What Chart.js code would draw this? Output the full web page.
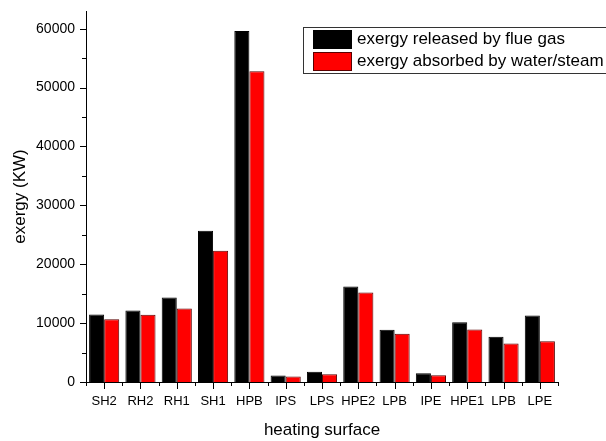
<!DOCTYPE html>
<html>
<head>
<meta charset="utf-8">
<script src="https://cdn.jsdelivr.net/npm/chart.js@4"></script>
<style>
  body { margin: 0; background: #fff; }
  #wrap { width: 606px; height: 441px; }
</style>
</head>
<body>
<div id="wrap"><canvas id="chart" width="606" height="441"></canvas></div>
<script>
// Data
const surfaces = ['SH2', 'RH2', 'RH1', 'SH1', 'HPB', 'IPS', 'LPS', 'HPE2', 'LPB', 'IPE', 'HPE1', 'LPB', 'LPE'];
const released = [11460, 12150, 14350, 25700, 59600, 1100, 1730, 16200, 8860, 1500, 10150, 7670, 11290];
const absorbed = [10650, 11400, 12480, 22300, 52770, 930, 1330, 15200, 8180, 1160, 8910, 6540, 6930];
const seriesNames = ['exergy released by flue gas', 'exergy absorbed by water/steam'];
const yMajorTicks = [0, 10000, 20000, 30000, 40000, 50000, 60000];
const yMinorTicks = [5000, 15000, 25000, 35000, 45000, 55000];

const FONT = '"Liberation Sans", Arial, sans-serif';

// tick marks: long on majors, short on minors, drawn outward
const tickMarks = {
    id: 'tickMarks',
    afterDraw(chart) {
        const ctx = chart.ctx;
        const x = chart.scales.x, y = chart.scales.y;
        const area = chart.chartArea;
        ctx.save();
        ctx.strokeStyle = '#000';
        ctx.lineWidth = 1;
        ctx.beginPath();
        y.ticks.forEach(t => {
            const py = Math.round(y.getPixelForValue(t.value)) + 0.5;
            const len = yMajorTicks.includes(t.value) ? 6 : 4;
            ctx.moveTo(area.left, py);
            ctx.lineTo(area.left - len, py);
        });
        for (let i = 0; i <= surfaces.length; i++) {
            const px = Math.round(x.getPixelForValue(i - 0.5)) + 0.5;
            ctx.moveTo(px, area.bottom);
            ctx.lineTo(px, area.bottom + 4);
        }
        surfaces.forEach((s, i) => {
            const px = Math.round(x.getPixelForValue(i)) + 0.5;
            ctx.moveTo(px, area.bottom);
            ctx.lineTo(px, area.bottom + 7);
        });
        ctx.stroke();
        ctx.restore();
    }
};

// boxed legend inside the plot, top right
const boxLegend = {
    id: 'boxLegend',
    afterDraw(chart) {
        const ctx = chart.ctx;
        ctx.save();
        ctx.strokeStyle = '#333';
        ctx.lineWidth = 1;
        ctx.strokeRect(303.5, 27.5, 320, 46);
        ctx.font = '17px ' + FONT;
        ctx.textBaseline = 'middle';
        chart.data.datasets.forEach((ds, i) => {
            const top = 30 + i * 22;
            ctx.fillStyle = ds.backgroundColor;
            ctx.fillRect(313, top, 39, 19);
            ctx.strokeStyle = ds.borderColor;
            ctx.strokeRect(313.5, top + 0.5, 38, 18);
            ctx.fillStyle = '#000';
            ctx.fillText(ds.label, 357, top + 9);
        });
        ctx.restore();
    }
};

new Chart(document.getElementById('chart'), {
    type: 'bar',
    data: {
        labels: surfaces,
        datasets: [{
            label: seriesNames[0],
            data: released,
            backgroundColor: '#000000',
            borderColor: '#000000',
            borderWidth: 1
        }, {
            label: seriesNames[1],
            data: absorbed,
            backgroundColor: '#ff0000',
            borderColor: '#5a0000',
            borderWidth: 1
        }]
    },
    options: {
        responsive: false,
        animation: false,
        categoryPercentage: 0.83,
        barPercentage: 1.0,
        layout: { padding: { top: 11, right: 48, left: 0, bottom: 0 } },
        plugins: { legend: { display: false }, tooltip: { enabled: false } },
        scales: {
            x: {
                grid: { display: false, drawTicks: false },
                border: { display: true, color: '#000', width: 1 },
                ticks: { color: '#000', font: { family: FONT, size: 13 }, padding: 12, maxRotation: 0, autoSkip: false },
                title: { display: true, text: 'heating surface', color: '#000', font: { family: FONT, size: 17 }, padding: { top: 0, bottom: 0 } },
                afterFit(scale) { scale.height = 59; }
            },
            y: {
                min: 0,
                max: 63000,
                grid: { display: false, drawTicks: false },
                border: { display: true, color: '#000', width: 1 },
                ticks: {
                    color: '#000',
                    font: { family: FONT, size: 14 },
                    padding: 11,
                    autoSkip: false,
                    callback: v => yMajorTicks.includes(v) ? String(v) : ''
                },
                afterBuildTicks(scale) {
                    scale.ticks = yMajorTicks.concat(yMinorTicks).sort((a, b) => a - b).map(v => ({ value: v }));
                },
                title: { display: true, text: 'exergy (KW)', color: '#000', font: { family: FONT, size: 17 }, padding: { top: 10, bottom: 0 } },
                afterFit(scale) {
                    scale.width = 86;
                    scale.paddingTop = 0;
                    scale.paddingBottom = 0;
                }
            }
        }
    },
    plugins: [tickMarks, boxLegend]
});
</script>
</body>
</html>
